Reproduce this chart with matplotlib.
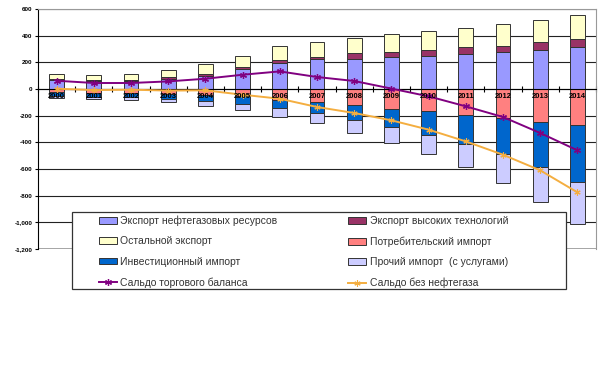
import numpy as np
import matplotlib
matplotlib.use("Agg")
import matplotlib.pyplot as plt
from matplotlib.patches import Rectangle
from matplotlib.ticker import FuncFormatter, FixedLocator

plt.rcParams["font.family"] = ["Liberation Sans", "DejaVu Sans"]

years = [str(y) for y in range(2000, 2015)]

# exports (positive)
oil_gas_export = [65, 57, 62, 77, 100, 150, 195, 225, 227, 240, 245, 262, 278, 290, 312]
hitech_export = [10, 10, 8, 13, 15, 12, 20, 15, 43, 37, 45, 50, 47, 60, 63]
other_export = [37, 38, 42, 50, 72, 83, 105, 110, 112, 135, 142, 145, 163, 170, 177]

# imports (negative)
consumer_import = [-25, -30, -30, -38, -43, -50, -80, -98, -120, -148, -168, -193, -218, -248, -273]
invest_import = [-30, -30, -33, -37, -50, -63, -63, -82, -110, -140, -180, -217, -267, -337, -425]
other_import = [-15, -15, -22, -23, -37, -47, -67, -78, -100, -117, -140, -175, -220, -263, -312]

# balances
trade_balance = [62, 45, 45, 57, 77, 107, 132, 90, 60, 3, -55, -130, -210, -330, -460]
non_oil_balance = [2, -8, -5, -12, -10, -43, -73, -135, -180, -235, -305, -393, -493, -610, -775]

export_labels = ["Экспорт нефтегазовых ресурсов", "Экспорт высоких технологий", "Остальной экспорт"]
import_labels = ["Потребительский импорт", "Инвестиционный импорт", "Прочий импорт  (с услугами)"]
line_labels = ["Сальдо торгового баланса", "Сальдо без нефтегаза"]

export_colors = ["#9999FF", "#993366", "#FFFFCC"]
import_colors = ["#FF8080", "#0066CC", "#CCCCFF"]

fig = plt.figure(figsize=(6, 3.71), dpi=100)
ax = fig.add_axes([38 / 600, 1 - 249 / 371, 558 / 600, 240 / 371])

x = np.arange(len(years))
w = 0.4
handles = {}

bottom = np.zeros(len(years))
for vals, lab, col in zip([oil_gas_export, hitech_export, other_export], export_labels, export_colors):
    b = ax.bar(x, vals, w, bottom=bottom, color=col, edgecolor="#333333", linewidth=0.7, label=lab, zorder=3)
    handles[lab] = b
    bottom += np.array(vals)

bottom = np.zeros(len(years))
for vals, lab, col in zip([consumer_import, invest_import, other_import], import_labels, import_colors):
    b = ax.bar(x, vals, w, bottom=bottom, color=col, edgecolor="#333333", linewidth=0.7, label=lab, zorder=3)
    handles[lab] = b
    bottom += np.array(vals)

l1, = ax.plot(x, trade_balance, color="#800080", lw=1.4, marker=(6, 2, 0), ms=5, mew=0.9, zorder=5)
l2, = ax.plot(x, non_oil_balance, color="#F4AE40", lw=1.4, marker=(6, 2, 0), ms=4.5, mew=0.8, zorder=5)
handles[line_labels[0]] = l1
handles[line_labels[1]] = l2

ax.set_xlim(-0.5, len(years) - 0.5)
ax.set_ylim(-1200, 600)
ax.set_yticks(np.arange(-1200, 601, 200))
ax.yaxis.set_major_formatter(FuncFormatter(lambda v, p: f"{int(v):,}"))
for lbl in ax.get_yticklabels():
    lbl.set_fontweight("bold")
ax.tick_params(axis="y", labelsize=4.5, length=2, width=0.8, pad=2)
ax.grid(axis="y", color="#222222", lw=0.8, zorder=0)

# category axis crossing at zero
ax.spines["bottom"].set_position(("data", 0))
ax.spines["bottom"].set_zorder(4)
ax.spines["left"].set_color("black")
ax.spines["top"].set_color("#999999")
ax.spines["right"].set_color("#999999")
ax.set_xticks(x)
ax.set_xticklabels([])
ax.tick_params(axis="x", which="major", length=0)
ax.xaxis.set_minor_locator(FixedLocator(np.arange(-0.5, len(years), 1)))
ax.tick_params(axis="x", which="minor", direction="inout", length=4, width=0.8)

# year labels drawn over the bars
for xi, yr in zip(x, years):
    ax.annotate(yr, (xi, 0), xytext=(0, -3), textcoords="offset points",
                ha="center", va="top", fontsize=5.5, fontweight="bold", zorder=7)

ax.axhline(-1200, color="#999999", lw=1.2, zorder=2)

# legend frame and entries
fig.patches.append(Rectangle((72 / 600, 1 - 289 / 371), 494 / 600, 77 / 371,
                             transform=fig.transFigure, facecolor="white",
                             edgecolor="#333333", lw=0.9, zorder=9))
order = [export_labels[0], export_labels[2], import_labels[1], line_labels[0],
         export_labels[1], import_labels[0], import_labels[2], line_labels[1]]
leg = fig.legend([handles[k] for k in order], order, ncol=2,
                 loc="upper left", bbox_to_anchor=(99 / 600, 1 - 215.5 / 371),
                 fontsize=7.5, frameon=False, handlelength=1.7, handleheight=0.6,
                 handletextpad=0.35, labelspacing=1.0, borderpad=0,
                 borderaxespad=0, columnspacing=6.8, labelcolor="#333333")
leg.set_zorder(10)

plt.savefig("out.png", dpi=100)
plt.close()
